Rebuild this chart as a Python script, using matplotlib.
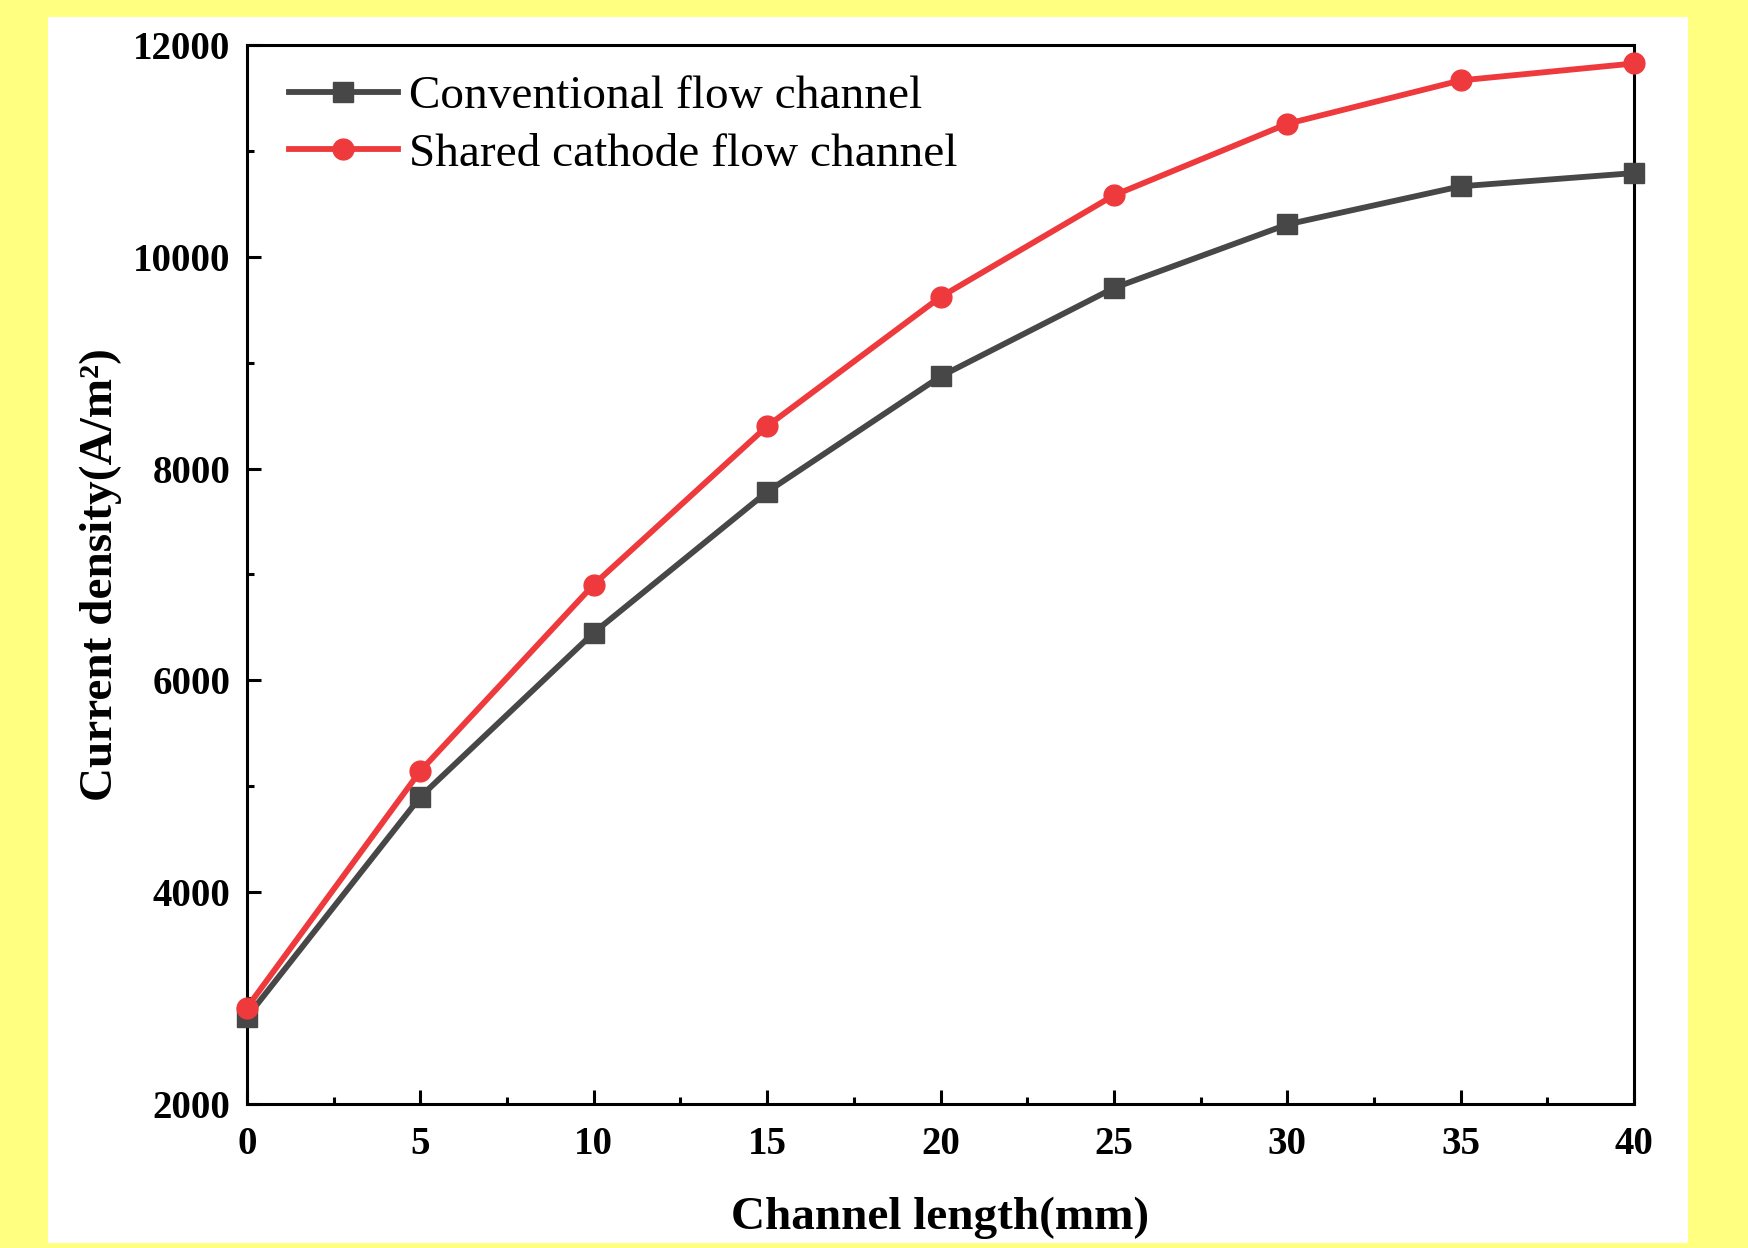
import matplotlib.pyplot as plt
from matplotlib.patches import Rectangle
from matplotlib.ticker import MultipleLocator

# dados
comprimento = [0, 5, 10, 15, 20, 25, 30, 35, 40]
convencional = [2820, 4900, 6450, 7780, 8870, 9705, 10305, 10665, 10790]
compartilhado = [2910, 5145, 6905, 8400, 9620, 10580, 11255, 11665, 11825]

plt.rcParams['font.family'] = ['Liberation Serif', 'DejaVu Serif']

fig = plt.figure(figsize=(17.48, 12.48), dpi=100)
fig.patch.set_facecolor('#ffff80')
fig.patches.append(Rectangle((0.0275, 0.004), 0.938, 0.982, transform=fig.transFigure,
                             facecolor='white', edgecolor='none', zorder=-10))

ax = fig.add_axes([0.1413, 0.1154, 0.7935, 0.8486])
ax.set_facecolor('white')

ax.plot(comprimento, convencional, color='#474747', lw=4.2, marker='s', ms=14,
        label='Conventional flow channel', clip_on=False, zorder=3)
ax.plot(comprimento, compartilhado, color='#ee3a3d', lw=4.2, marker='o', ms=15,
        label='Shared cathode flow channel', clip_on=False, zorder=4)

ax.set_xlim(0, 40)
ax.set_ylim(2000, 12000)
ax.xaxis.set_major_locator(MultipleLocator(5))
ax.xaxis.set_minor_locator(MultipleLocator(2.5))
ax.yaxis.set_major_locator(MultipleLocator(2000))
ax.yaxis.set_minor_locator(MultipleLocator(1000))
ax.tick_params(which='both', direction='in', top=False, right=False, width=2.2)
ax.tick_params(which='major', length=10, labelsize=28, pad=12)
ax.tick_params(axis='x', which='major', pad=16)
ax.tick_params(which='minor', length=5)
for lbl in ax.get_xticklabels() + ax.get_yticklabels():
    lbl.set_fontweight('bold')
for s in ax.spines.values():
    s.set_linewidth(2.2)

ax.set_xlabel('Channel length(mm)', fontsize=34, fontweight='bold', labelpad=24)
ax.set_ylabel('Current density(A/m²)', fontsize=34, fontweight='bold', labelpad=8)

ax.legend(loc='upper left', frameon=False, fontsize=34, handlelength=2.3,
          handletextpad=0.25, labelspacing=0.3, borderaxespad=0.4,
          bbox_to_anchor=(0.003, 1.007))

fig.savefig('out.png', dpi=100, facecolor=fig.get_facecolor())
